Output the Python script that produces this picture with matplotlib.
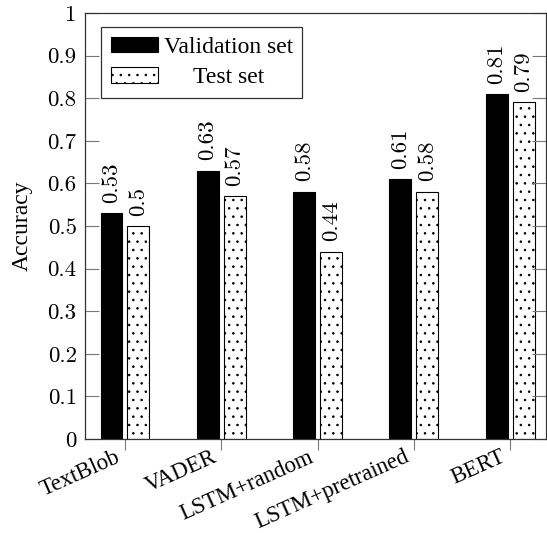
import numpy as np
import matplotlib
matplotlib.use("Agg")
import matplotlib.pyplot as plt

# accuracy of each model on validation and test set
models = ["TextBlob", "VADER", "LSTM+random", "LSTM+pretrained", "BERT"]
val_acc = [0.53, 0.63, 0.58, 0.61, 0.81]
test_acc = [0.50, 0.57, 0.44, 0.58, 0.79]
yticks = np.round(np.arange(0, 1.01, 0.1), 1)

text_font = "Liberation Serif"   # Times-like for words
num_font = "cmr10"                # computer modern for numbers
fs_num = 16.5
fs_txt = 17

plt.rcParams["axes.formatter.use_mathtext"] = True
plt.rcParams["hatch.linewidth"] = 0.6

fig = plt.figure(figsize=(5.47, 5.33), dpi=100)
ax = fig.add_axes([0.1554, 0.1764, 0.998 - 0.1554, 0.9756 - 0.1764])

x = np.arange(len(models))
w = 0.228
off = 0.14
b1 = ax.bar(x - off, val_acc, w, color="black", edgecolor="black", linewidth=0.8,
            label="Validation set")
b2 = ax.bar(x + off, test_acc, w, color="white", edgecolor="black", linewidth=0.8,
            hatch="..", label="     Test set")

for bars in (b1, b2):
    labs = ax.bar_label(bars, fmt="%g", padding=7.5, rotation=90)
    for t in labs:
        t.set_fontfamily(num_font)
        t.set_fontsize(fs_num)

ax.set_xlim(-0.415, 4.37)
ax.set_ylim(0, 1)
ax.set_yticks(yticks)
ax.set_yticklabels(["%g" % v for v in yticks], fontfamily=num_font, fontsize=fs_num)
ax.set_xticks(x)
ax.set_xticklabels([])
# rotated category names, right end (east anchor) a little left of / below the tick
for xi, name in zip(x, models):
    ax.annotate(name, (xi, 0), xycoords=("data", "axes fraction"),
                xytext=(-4, -12.3), textcoords="offset points",
                rotation=24, ha="right", va="center", rotation_mode="anchor",
                fontfamily=text_font, fontsize=16.5, annotation_clip=False)
ax.tick_params(axis="y", direction="in", length=10, width=0.8, color="#777777",
               right=True, pad=6)
ax.tick_params(axis="x", direction="out", length=8, width=0.8, color="#777777")
for s in ax.spines.values():
    s.set_color("#333333")
    s.set_linewidth(0.9)

ax.set_ylabel("Accuracy", fontfamily=text_font, fontsize=fs_txt, labelpad=11)

leg = ax.legend(loc="upper left", bbox_to_anchor=(0.035, 0.967), borderaxespad=0,
                fancybox=False, edgecolor="#333333", framealpha=1,
                handlelength=2.0, handleheight=0.65,
                prop={"family": text_font, "size": fs_txt}, borderpad=0.4,
                labelspacing=0.4, handletextpad=0.25)
leg.get_frame().set_linewidth(0.9)

fig.savefig("out.png", dpi=100)
